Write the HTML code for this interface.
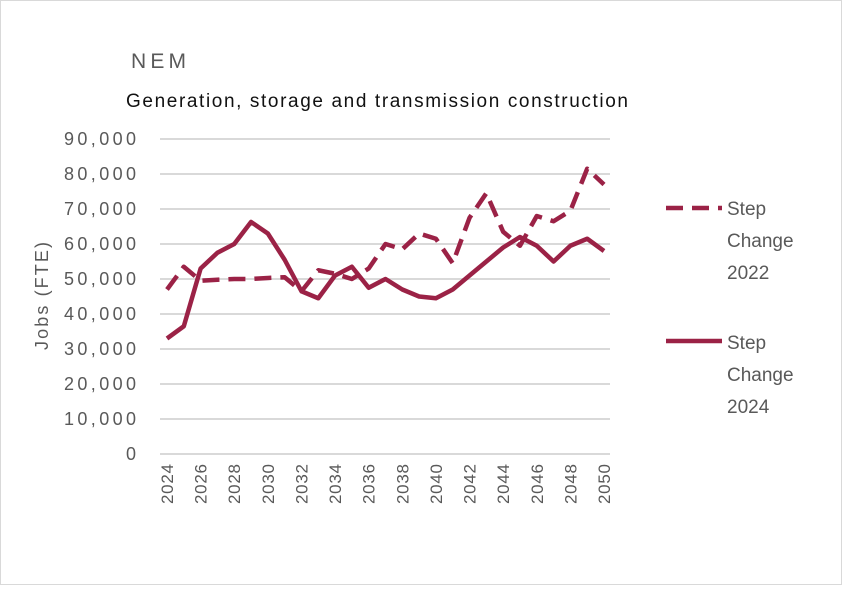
<!DOCTYPE html>
<html><head><meta charset="utf-8"><style>
body{margin:0;background:#fff;}
svg text{font-family:"Liberation Sans",sans-serif;fill:#595959;}
</style></head><body>
<svg width="842" height="585">
<rect x="0.5" y="0.5" width="841" height="584" fill="#fff" stroke="#d9d9d9"/>
<text x="131" y="68" font-size="21" textLength="55">NEM</text>
<text x="126" y="107" font-size="19" textLength="502" style="fill:#111">Generation, storage and transmission construction</text>
<text transform="translate(48,296) rotate(-90)" text-anchor="middle" font-size="18" textLength="108">Jobs (FTE)</text>
<g id="grid"></g><g id="yt"></g><g id="xt"></g><g id="series"></g>
<g>
<line x1="666" y1="208" x2="722" y2="208" stroke="#9b2246" stroke-width="4.5" stroke-dasharray="17,9"/>
<text x="727" y="215" font-size="19"><tspan x="727">Step</tspan><tspan x="727" dy="32">Change</tspan><tspan x="727" dy="32">2022</tspan></text>
<line x1="666" y1="341" x2="722" y2="341" stroke="#9b2246" stroke-width="4.5"/>
<text x="727" y="349" font-size="19"><tspan x="727">Step</tspan><tspan x="727" dy="32">Change</tspan><tspan x="727" dy="32">2024</tspan></text>
</g>
</svg>
<script>
const years=[2024,2025,2026,2027,2028,2029,2030,2031,2032,2033,2034,2035,2036,2037,2038,2039,2040,2041,2042,2043,2044,2045,2046,2047,2048,2049,2050];
const sc2022=[47000,53500,49500,49800,50000,50000,50300,50500,46500,52500,51500,50000,53000,60000,58500,63000,61500,54500,67500,74500,63500,59500,68000,66500,69500,81500,77000];
const sc2024=[33000,36500,53000,57500,60000,66300,63000,55500,46500,44500,51000,53500,47500,50000,47000,45000,44500,47000,51000,55000,59000,62000,59500,55000,59500,61500,58000];
const yTicks=[0,10000,20000,30000,40000,50000,60000,70000,80000,90000];
const xLabels=[2024,2026,2028,2030,2032,2034,2036,2038,2040,2042,2044,2046,2048,2050];
const NS='http://www.w3.org/2000/svg';
const x=v=>167+(v-2024)*(437/26);
const y=v=>454-v*(315/90000);
function mk(tag,attrs,parent){const e=document.createElementNS(NS,tag);for(const k in attrs)e.setAttribute(k,attrs[k]);document.getElementById(parent).appendChild(e);return e;}
yTicks.forEach(t=>{
  const g=mk('line',{x1:160,x2:610,y1:y(t),y2:y(t),stroke:'#d9d9d9','stroke-width':2},'grid');
  
  
  const s=t.toLocaleString('en-US');
  const tx=mk('text',{x:136,y:y(t)+6,'text-anchor':'end','font-size':18},'yt');
  if(s.length>1)tx.setAttribute('textLength',s.length*12);
  tx.textContent=s;
  
  
});
xLabels.forEach(v=>{
  const tx=mk('text',{transform:`translate(${x(v)+6},${464}) rotate(-90)`,'text-anchor':'end','font-size':17,textLength:40},'xt');
  tx.textContent=v;
  
  
});
function pts(arr){return arr.map((v,i)=>x(years[i])+','+y(v)).join(' ');}
const l1=mk('polyline',{points:pts(sc2022),fill:'none',stroke:'#9b2246','stroke-width':4.5,'stroke-dasharray':'17,9','stroke-linejoin':'round'},'series');


const l2=mk('polyline',{points:pts(sc2024),fill:'none',stroke:'#9b2246','stroke-width':4.5,'stroke-linejoin':'round'},'series');


</script>
</body></html>
